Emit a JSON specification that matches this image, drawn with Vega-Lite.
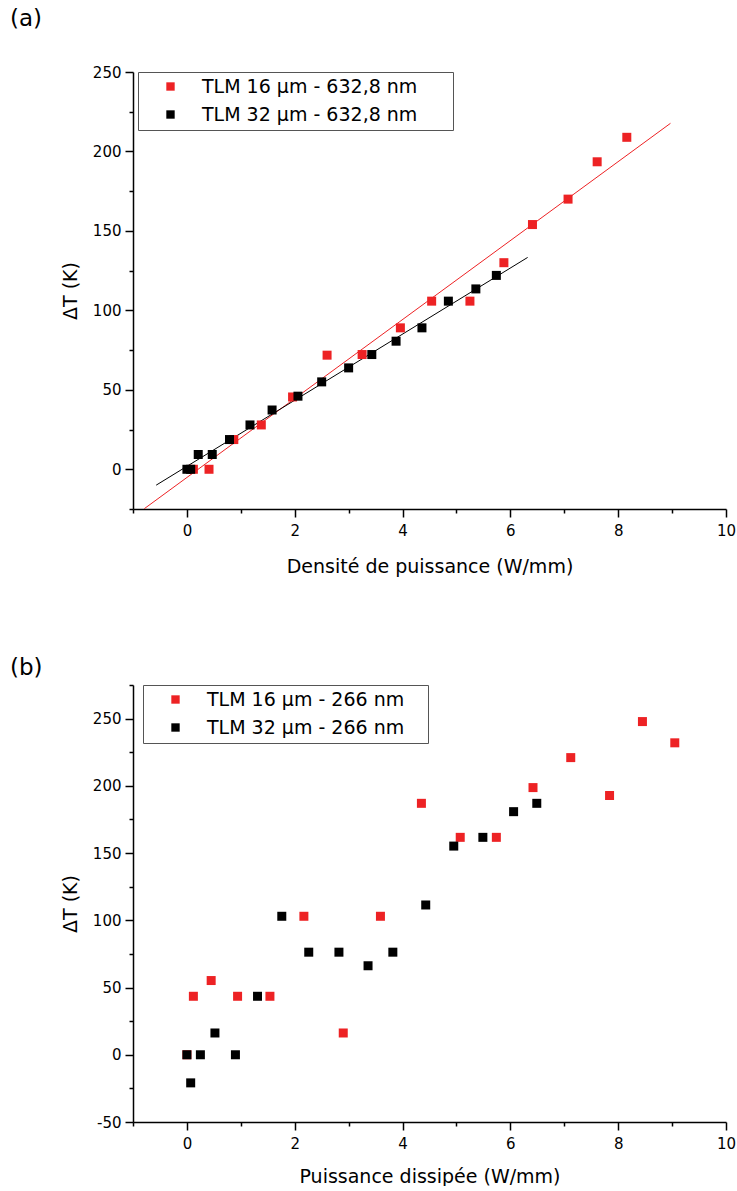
{
  "$schema": "https://vega.github.io/schema/vega-lite/v6.json",
  "padding": {"left": 10, "top": 8, "right": 5, "bottom": 0},
  "spacing": 81,
  "background": "white",
  "config": {
    "font": "DejaVu Sans",
    "view": {"stroke": null},
    "axis": {
      "grid": false,
      "domainColor": "#000000",
      "domainWidth": 1.5,
      "tickColor": "#000000",
      "tickWidth": 1.5,
      "labelFont": "DejaVu Sans",
      "labelFontSize": 15,
      "labelColor": "#000000",
      "titleFont": "DejaVu Sans",
      "titleFontSize": 19,
      "titleFontWeight": "normal",
      "titleColor": "#000000",
      "labelFlush": false,
      "labelOverlap": false
    },
    "legend": {
      "labelFont": "DejaVu Sans",
      "labelFontSize": 19,
      "labelColor": "#000000",
      "labelLimit": 500,
      "strokeColor": "#555555",
      "fillColor": "white",
      "padding": 5,
      "rowPadding": 8,
      "symbolType": "square",
      "symbolSize": 70,
      "symbolStrokeWidth": 0,
      "symbolOffset": 18,
      "labelOffset": 22,
      "orient": "none"
    },
    "title": {"font": "DejaVu Sans", "fontSize": 23, "fontWeight": "normal", "color": "#000000", "anchor": "start", "frame": "group"}
  },
  "datasets": {
    "fitA": [
      {"line": "fit 16", "x": -0.79, "y": -24.8},
      {"line": "fit 16", "x": 8.97, "y": 217.7},
      {"line": "fit 32", "x": -0.57, "y": -10},
      {"line": "fit 32", "x": 6.32, "y": 133.3}
    ],
    "ptsA": [
      {"series": "TLM 16 µm - 632,8 nm", "x": 0.12, "y": 0},
      {"series": "TLM 16 µm - 632,8 nm", "x": 0.41, "y": 0},
      {"series": "TLM 16 µm - 632,8 nm", "x": 0.87, "y": 18.7},
      {"series": "TLM 16 µm - 632,8 nm", "x": 1.38, "y": 27.9},
      {"series": "TLM 16 µm - 632,8 nm", "x": 1.96, "y": 45.5},
      {"series": "TLM 16 µm - 632,8 nm", "x": 2.6, "y": 71.8},
      {"series": "TLM 16 µm - 632,8 nm", "x": 3.25, "y": 72.2},
      {"series": "TLM 16 µm - 632,8 nm", "x": 3.96, "y": 89},
      {"series": "TLM 16 µm - 632,8 nm", "x": 4.54, "y": 105.8},
      {"series": "TLM 16 µm - 632,8 nm", "x": 5.25, "y": 105.8},
      {"series": "TLM 16 µm - 632,8 nm", "x": 5.88, "y": 130},
      {"series": "TLM 16 µm - 632,8 nm", "x": 6.41, "y": 154},
      {"series": "TLM 16 µm - 632,8 nm", "x": 7.07, "y": 170},
      {"series": "TLM 16 µm - 632,8 nm", "x": 7.61, "y": 193.5},
      {"series": "TLM 16 µm - 632,8 nm", "x": 8.16, "y": 208.9},
      {"series": "TLM 32 µm - 632,8 nm", "x": 0, "y": 0},
      {"series": "TLM 32 µm - 632,8 nm", "x": 0.07, "y": 0},
      {"series": "TLM 32 µm - 632,8 nm", "x": 0.21, "y": 9.3},
      {"series": "TLM 32 µm - 632,8 nm", "x": 0.47, "y": 9.3},
      {"series": "TLM 32 µm - 632,8 nm", "x": 0.79, "y": 18.7},
      {"series": "TLM 32 µm - 632,8 nm", "x": 1.17, "y": 27.9},
      {"series": "TLM 32 µm - 632,8 nm", "x": 1.58, "y": 37.3},
      {"series": "TLM 32 µm - 632,8 nm", "x": 2.06, "y": 46},
      {"series": "TLM 32 µm - 632,8 nm", "x": 2.5, "y": 55},
      {"series": "TLM 32 µm - 632,8 nm", "x": 3.0, "y": 63.8},
      {"series": "TLM 32 µm - 632,8 nm", "x": 3.43, "y": 72.2},
      {"series": "TLM 32 µm - 632,8 nm", "x": 3.88, "y": 80.6},
      {"series": "TLM 32 µm - 632,8 nm", "x": 4.36, "y": 89},
      {"series": "TLM 32 µm - 632,8 nm", "x": 4.85, "y": 105.8},
      {"series": "TLM 32 µm - 632,8 nm", "x": 5.36, "y": 113.5},
      {"series": "TLM 32 µm - 632,8 nm", "x": 5.74, "y": 122}
    ],
    "ptsB": [
      {"series": "TLM 16 μm - 266 nm", "x": 0, "y": 0},
      {"series": "TLM 16 μm - 266 nm", "x": 0.12, "y": 43.5},
      {"series": "TLM 16 μm - 266 nm", "x": 0.45, "y": 55.2},
      {"series": "TLM 16 μm - 266 nm", "x": 0.94, "y": 43.5},
      {"series": "TLM 16 μm - 266 nm", "x": 1.54, "y": 43.5},
      {"series": "TLM 16 μm - 266 nm", "x": 2.17, "y": 103},
      {"series": "TLM 16 μm - 266 nm", "x": 2.9, "y": 16.2},
      {"series": "TLM 16 μm - 266 nm", "x": 3.59, "y": 103},
      {"series": "TLM 16 μm - 266 nm", "x": 4.35, "y": 187},
      {"series": "TLM 16 μm - 266 nm", "x": 5.07, "y": 161.7},
      {"series": "TLM 16 μm - 266 nm", "x": 5.74, "y": 161.7},
      {"series": "TLM 16 μm - 266 nm", "x": 6.42, "y": 198.7},
      {"series": "TLM 16 μm - 266 nm", "x": 7.12, "y": 221},
      {"series": "TLM 16 μm - 266 nm", "x": 7.84, "y": 192.8},
      {"series": "TLM 16 μm - 266 nm", "x": 8.45, "y": 247.8},
      {"series": "TLM 16 μm - 266 nm", "x": 9.05, "y": 232},
      {"series": "TLM 32 μm - 266 nm", "x": 0, "y": 0},
      {"series": "TLM 32 μm - 266 nm", "x": 0.07, "y": -20.9},
      {"series": "TLM 32 μm - 266 nm", "x": 0.25, "y": 0},
      {"series": "TLM 32 μm - 266 nm", "x": 0.52, "y": 16.2},
      {"series": "TLM 32 μm - 266 nm", "x": 0.9, "y": 0},
      {"series": "TLM 32 μm - 266 nm", "x": 1.31, "y": 43.5},
      {"series": "TLM 32 μm - 266 nm", "x": 1.76, "y": 103},
      {"series": "TLM 32 μm - 266 nm", "x": 2.26, "y": 76.3},
      {"series": "TLM 32 μm - 266 nm", "x": 2.82, "y": 76.3},
      {"series": "TLM 32 μm - 266 nm", "x": 3.36, "y": 66.2},
      {"series": "TLM 32 μm - 266 nm", "x": 3.82, "y": 76.3},
      {"series": "TLM 32 μm - 266 nm", "x": 4.43, "y": 111.4},
      {"series": "TLM 32 μm - 266 nm", "x": 4.95, "y": 155.2},
      {"series": "TLM 32 μm - 266 nm", "x": 5.49, "y": 161.7},
      {"series": "TLM 32 μm - 266 nm", "x": 6.06, "y": 180.8},
      {"series": "TLM 32 μm - 266 nm", "x": 6.49, "y": 187}
    ]
  },
  "resolve": {"scale": {"x": "independent", "y": "independent", "color": "independent", "stroke": "independent"}},
  "vconcat": [
    {
      "title": {"text": "(a)", "dx": -123, "offset": 34},
      "width": 593,
      "height": 437,
      "encoding": {
        "x": {"field": "x", "type": "quantitative", "scale": {"domain": [-1, 10], "nice": false, "zero": false},
          "axis": {"title": "Densité de puissance (W/mm)", "values": [-1, 0, 1, 2, 3, 4, 5, 6, 7, 8, 9, 10],
            "labelExpr": "datum.value % 2 === 0 ? datum.label : ''",
            "tickSize": {"condition": {"test": "datum.value % 2 === 0", "value": 8}, "value": 4},
            "labelPadding": 6, "titlePadding": 19}},
        "y": {"field": "y", "type": "quantitative", "scale": {"domain": [-25, 250], "nice": false, "zero": false},
          "axis": {"title": "ΔT (K)", "values": [-25, 0, 25, 50, 75, 100, 125, 150, 175, 200, 225, 250],
            "labelExpr": "datum.value % 50 === 0 ? '' + datum.value : ''",
            "tickSize": {"condition": {"test": "datum.value % 50 === 0", "value": 8}, "value": 4},
            "labelPadding": 4, "titlePadding": 12}}
      },
      "layer": [
        {
          "data": {"name": "fitA"},
          "mark": {"type": "line", "strokeWidth": 1, "clip": true},
          "encoding": {
            "stroke": {"field": "line", "type": "nominal", "scale": {"domain": ["fit 16", "fit 32"], "range": ["#ed2224", "#000000"]}, "legend": null}
          }
        },
        {
          "data": {"name": "ptsA"},
          "mark": {"type": "square", "size": 81, "opacity": 1},
          "encoding": {
            "color": {"field": "series", "type": "nominal",
              "scale": {"domain": ["TLM 16 µm - 632,8 nm", "TLM 32 µm - 632,8 nm"], "range": ["#ed2224", "#000000"]},
              "legend": {"title": null, "legendX": 5, "legendY": 0, "labelExpr": "datum.label + '\u00a0\u00a0\u00a0\u00a0\u00a0\u200b'"}}
          }
        }
      ]
    },
    {
      "title": {"text": "(b)", "dx": -123, "offset": -2},
      "width": 593,
      "height": 437,
      "data": {"name": "ptsB"},
      "mark": {"type": "square", "size": 81, "opacity": 1},
      "encoding": {
        "x": {"field": "x", "type": "quantitative", "scale": {"domain": [-1, 10], "nice": false, "zero": false},
          "axis": {"title": "Puissance dissipée (W/mm)", "values": [-1, 0, 1, 2, 3, 4, 5, 6, 7, 8, 9, 10],
            "labelExpr": "datum.value % 2 === 0 ? datum.label : ''",
            "tickSize": {"condition": {"test": "datum.value % 2 === 0", "value": 8}, "value": 4},
            "labelPadding": 6, "titlePadding": 16}},
        "y": {"field": "y", "type": "quantitative", "scale": {"domain": [-50, 275], "nice": false, "zero": false},
          "axis": {"title": "ΔT (K)", "values": [-50, -25, 0, 25, 50, 75, 100, 125, 150, 175, 200, 225, 250, 275],
            "labelExpr": "datum.value % 50 === 0 ? '' + datum.value : ''",
            "tickSize": {"condition": {"test": "datum.value % 50 === 0", "value": 8}, "value": 4},
            "labelPadding": 4, "titlePadding": 12}},
        "color": {"field": "series", "type": "nominal",
          "scale": {"domain": ["TLM 16 μm - 266 nm", "TLM 32 μm - 266 nm"], "range": ["#ed2224", "#000000"]},
          "legend": {"title": null, "legendX": 10, "legendY": 0, "labelExpr": "datum.label + '\u00a0\u00a0\u00a0\u200b'"}}
      }
    }
  ]
}
